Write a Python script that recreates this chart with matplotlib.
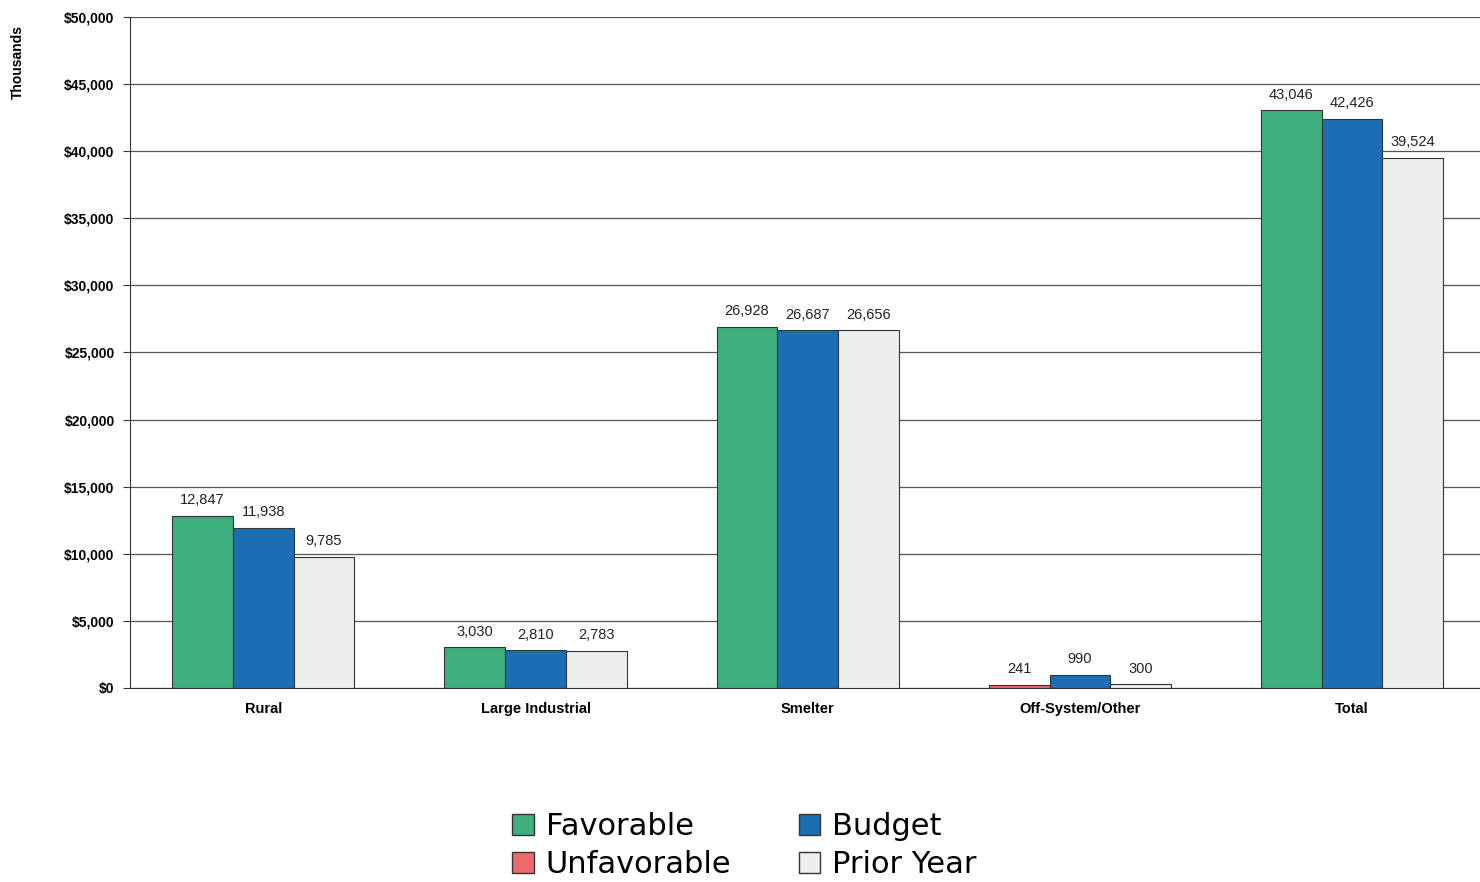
import matplotlib
matplotlib.use("Agg")
import matplotlib.pyplot as plt
import numpy as np
from matplotlib.patches import Patch
from matplotlib.ticker import FuncFormatter, MultipleLocator

categories = ["Rural", "Large Industrial", "Smelter", "Off-System/Other", "Total"]
actual = [12847, 3030, 26928, 241, 43046]
budget = [11938, 2810, 26687, 990, 42426]
prior_year = [9785, 2783, 26656, 300, 39524]

FAV = "#3DAE7C"
UNFAV = "#EE6A6A"
BUD = "#1B6DB4"
PRI = "#EDEEF0"

fig = plt.figure(figsize=(14.8, 8.82), dpi=100)
ax = fig.add_axes([0.0878, 0.22, 0.9122, 0.7607])

x = np.arange(len(categories))
w = 0.223
act_colors = [FAV if a >= b else UNFAV for a, b in zip(actual, budget)]
b1 = ax.bar(x - w, actual, w, color=act_colors, edgecolor="#333333", linewidth=0.8, zorder=3)
b2 = ax.bar(x, budget, w, color=BUD, edgecolor="#333333", linewidth=0.8, zorder=3)
b3 = ax.bar(x + w, prior_year, w, color=PRI, edgecolor="#333333", linewidth=0.8, zorder=3)

lab_font = dict(family="Liberation Sans", fontsize=10.5, color="#222222")
for bars, vals in ((b1, actual), (b2, budget), (b3, prior_year)):
    for rect, v in zip(bars, vals):
        ax.annotate(f"{v:,}", (rect.get_x() + rect.get_width() / 2, v),
                    xytext=(0, 6), textcoords="offset points",
                    ha="center", va="bottom", **lab_font)

ax.set_ylim(0, 50000)
ax.set_xlim(-0.49, 4.47)
ax.yaxis.set_major_locator(MultipleLocator(5000))
ax.yaxis.set_major_formatter(FuncFormatter(lambda v, p: f"${v:,.0f}"))
ax.grid(axis="y", color="#555555", linewidth=0.9, zorder=0)
ax.set_axisbelow(True)

for lbl in ax.get_yticklabels():
    lbl.set_fontfamily("Liberation Sans")
    lbl.set_fontweight("bold")
    lbl.set_fontsize(10)
ax.set_xticks(x)
ax.set_xticklabels(categories, fontfamily="Liberation Sans", fontweight="bold", fontsize=10.5)
ax.tick_params(axis="x", length=0, pad=10)
ax.tick_params(axis="y", length=5, width=0.8, color="#333333", pad=6)

ax.spines["top"].set_visible(False)
ax.spines["right"].set_visible(False)
ax.spines["left"].set_color("#333333")
ax.spines["bottom"].set_color("#333333")

fig.text(0.012, 0.93, "Thousands", rotation=90, ha="center", va="center",
         fontfamily="Liberation Sans", fontweight="bold", fontsize=10)

handles = [Patch(facecolor=FAV, edgecolor="#333333"),
           Patch(facecolor=UNFAV, edgecolor="#333333"),
           Patch(facecolor=BUD, edgecolor="#333333"),
           Patch(facecolor=PRI, edgecolor="#333333")]
labels = ["Favorable", "Unfavorable", "Budget", "Prior Year"]
fig.legend(handles, labels, ncol=2, loc="center", bbox_to_anchor=(0.503, 0.041),
           frameon=False, prop=dict(family="DejaVu Sans", size=22),
           handlelength=0.7, handleheight=0.7, handletextpad=0.4,
           columnspacing=2.2, labelspacing=0.3, borderpad=0.1)

fig.savefig("out.png", dpi=100)
